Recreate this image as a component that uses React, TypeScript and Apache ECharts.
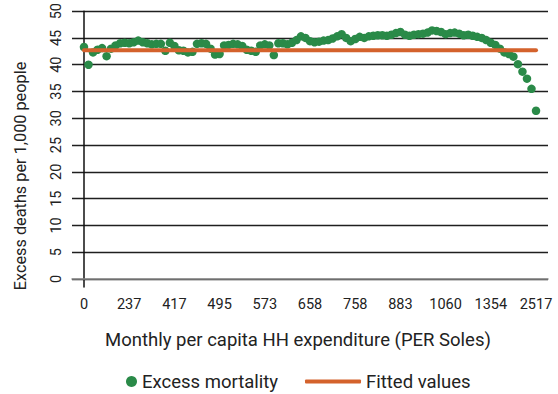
import React, { useEffect, useRef } from "react";
import * as echarts from "echarts";

const xTickLabels = ["0", "237", "417", "495", "573", "658", "758", "883", "1060", "1354", "2517"];
const xTickIndex = [0, 10, 20, 30, 40, 50, 60, 70, 80, 90, 100];
const yTicks = [0, 5, 10, 15, 20, 25, 30, 35, 40, 45, 50];

const excessMortality = [
  43.3, 40.0, 42.3, 42.8, 43.1, 41.6, 43.0, 43.6, 44.0, 44.1,
  44.0, 44.2, 44.5, 44.2, 44.0, 43.8, 43.9, 43.9, 42.6, 44.1,
  43.5, 42.7, 42.6, 42.3, 42.4, 43.9, 44.0, 43.9, 43.0, 41.9,
  42.0, 43.6, 43.7, 43.9, 43.8, 43.5, 42.8, 42.6, 42.4, 43.6,
  43.8, 43.6, 41.8, 44.0, 44.0, 43.8, 44.1, 44.6, 45.3, 45.0,
  44.4, 44.2, 44.3, 44.5, 44.6, 44.9, 45.3, 45.7, 45.0, 44.4,
  44.8, 45.2, 45.0, 45.3, 45.4, 45.5, 45.5, 45.4, 45.6, 45.9,
  46.1, 45.6, 45.4, 45.6, 45.7, 45.8, 46.0, 46.4, 46.3, 46.1,
  45.7, 45.9, 46.0, 45.8, 45.5, 45.6, 45.4, 45.2, 45.0, 44.6,
  44.1, 43.7, 43.0, 42.3, 42.0, 41.5, 40.1, 38.7, 37.4, 35.5,
  31.4,
];
const fittedX = [0, 100];
const fittedY = [42.7, 42.7];

const FONT = "Roboto, 'Noto Sans', sans-serif";
const TEXT = "#222222";
const GREEN = "#2a8a48";
const ORANGE = "#d4622c";

export default function App() {
  const ref = useRef<HTMLDivElement>(null);
  useEffect(() => {
    if (!ref.current) return;
    const chart = echarts.init(ref.current, null, { renderer: "svg" });
    chart.setOption({
      animation: false,
      backgroundColor: "#ffffff",
      textStyle: { fontFamily: FONT, color: TEXT },
      grid: { left: 72, right: 10, top: 11, bottom: 107, containLabel: false },
      xAxis: {
        type: "value",
        min: -2.65,
        max: 102.65,
        axisLine: { show: true, lineStyle: { color: "#8a8a8a", width: 1.5 } },
        axisTick: { show: false, customValues: xTickIndex },
        splitLine: { show: false },
        axisLabel: {
          customValues: xTickIndex,
          margin: 10,
          fontSize: 14.5,
          color: TEXT,
          fontFamily: FONT,
          formatter: (v: number) => {
            const i = xTickIndex.indexOf(Math.round(v));
            return i >= 0 ? xTickLabels[i] : "";
          },
        },
      },
      yAxis: {
        type: "value",
        min: -1.5,
        max: 50,
        axisLine: { show: true, lineStyle: { color: "#111111", width: 1.5 } },
        axisTick: { show: false, customValues: yTicks },
        splitLine: { show: true, lineStyle: { color: "#1f1f1f", width: 1.4 } },
        axisLabel: {
          customValues: yTicks,
          rotate: 90,
          margin: 8,
          fontSize: 14.5,
          color: TEXT,
          fontFamily: FONT,
        },
      },
      legend: [
        {
          data: [{ name: "Excess mortality", icon: "circle", itemStyle: { color: GREEN, opacity: 1 } }],
          left: 121,
          top: 367,
          itemWidth: 11,
          itemHeight: 11,
          itemGap: 5,
          textStyle: { fontSize: 18.5, color: TEXT, fontFamily: FONT },
        },
        {
          data: [{ name: "Fitted values", icon: "roundRect", itemStyle: { color: ORANGE } }],
          left: 300,
          top: 367,
          itemWidth: 56,
          itemHeight: 4,
          textStyle: { fontSize: 18.5, color: TEXT, fontFamily: FONT },
        },
      ],
      graphic: [
        {
          type: "text",
          x: 20,
          y: 176,
          rotation: Math.PI / 2,
          style: {
            text: "Excess deaths per 1,000 people",
            fill: TEXT,
            font: `16.3px ${FONT}`,
            align: "center",
            verticalAlign: "middle",
          },
        },
        {
          type: "text",
          x: 298,
          y: 340,
          style: {
            text: "Monthly per capita HH expenditure (PER Soles)",
            fill: TEXT,
            font: `18.5px ${FONT}`,
            align: "center",
            verticalAlign: "middle",
          },
        },
      ],
      series: [
        {
          name: "Excess mortality",
          type: "scatter",
          symbol: "circle",
          symbolSize: 8.5,
          itemStyle: { color: GREEN, opacity: 1 },
          data: excessMortality.map((v, i) => [i, v]),
          z: 2,
        },
        {
          name: "Fitted values",
          type: "line",
          symbol: "none",
          lineStyle: { color: ORANGE, width: 4, cap: "round" },
          itemStyle: { color: ORANGE },
          data: fittedX.map((x, i) => [x, fittedY[i]]),
          z: 3,
        },
      ],
    });
    return () => chart.dispose();
  }, []);
  return <div ref={ref} style={{ width: 558, height: 394, position: "absolute", left: 0, top: 0 }} />;
}
